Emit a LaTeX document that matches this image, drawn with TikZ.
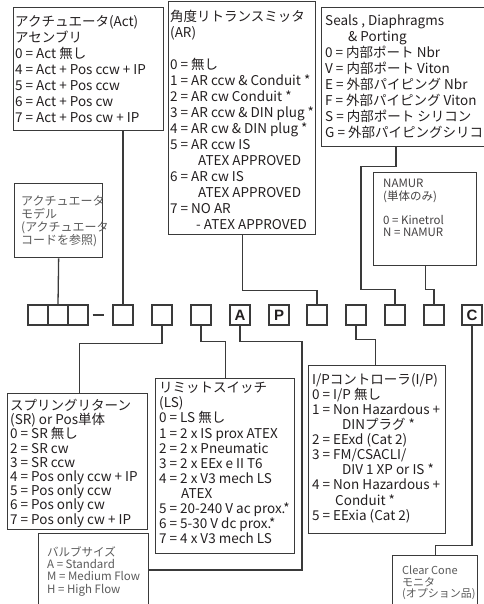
\documentclass[tikz,border=0pt]{standalone}
\usepackage{fontspec}
\setmainfont{Noto Sans CJK JP}
\newfontfamily\codefont{Liberation Sans}
\usepackage{tikz}
\usetikzlibrary{positioning,calc}
\definecolor{ocline}{HTML}{3A3A3A}
\definecolor{octxt}{HTML}{231F20}
\definecolor{ocgray}{HTML}{5A5A5A}
\tikzset{
  ocframe/.style={draw=ocline, line width=1.3pt, anchor=north west, inner sep=0pt},
  ocbig/.style={anchor=north west, align=left, inner sep=0pt, text=octxt,
    font=\fontsize{13.5}{16}\selectfont},
  oclow/.style={ocbig, font=\fontsize{13.5}{15.1}\selectfont},
  ocsr/.style={ocbig, font=\fontsize{13.5}{14.2}\selectfont},
  ocnote/.style={anchor=north west, align=left, inner sep=0pt, text=ocgray,
    font=\fontsize{11.5}{12.4}\selectfont},
  occell/.style={draw=ocline, line width=1.3pt, minimum size=20pt, inner sep=0pt,
    text=octxt, font=\codefont\bfseries\fontsize{15}{15}\selectfont},
  oclink/.style={draw=ocline, line width=1.3pt}
}

\begin{document}
\begin{tikzpicture}[x=1pt,y=-1pt]
\useasboundingbox (0,0) rectangle (483,604);

\node[ocframe, minimum width=150, minimum height=123] (act) at (13,7) {};
\node[ocbig] (acttext) at (15,15) {アクチュエータ(Act)\\アセンブリ\\0 = Act 無し\\4 = Act + Pos ccw + IP\\5 = Act + Pos ccw\\6 = Act + Pos cw\\7 = Act + Pos cw + IP};

\node[ocframe, minimum width=147, minimum height=233] (ar) at (168,1) {};
\node[ocbig] (artext) at (170,10) {角度リトランスミッタ\\(AR)\\[16pt]0 = 無し\\1 = AR ccw \& Conduit *\\2 = AR cw Conduit *\\3 = AR ccw \& DIN plug *\\4 = AR cw \& DIN plug *\\5 = AR ccw IS\\\hspace*{28pt}ATEX APPROVED\\6 = AR cw IS\\\hspace*{28pt}ATEX APPROVED\\7 = NO AR\\\hspace*{26pt}- ATEX APPROVED};

\node[ocframe, minimum width=200, minimum height=139] (seals) at (321,7) {};
\node[ocbig] (sealstext) at (325,15) {Seals , Diaphragms\\\hspace*{23pt}\& Porting\\0 = 内部ポート Nbr\\V = 内部ポート Viton\\E = 外部パイピング Nbr\\F = 外部パイピング Viton\\S = 内部ポート シリコン\\G = 外部パイピングシリコン};

\node[ocframe, minimum width=103, minimum height=93] (namur) at (373,172) {};
\node[ocnote, text=octxt!85] (namurtext) at (383,179) {NAMUR\\(単体のみ)\\[12pt]0 = Kinetrol\\N = NAMUR};

\node[ocframe, minimum width=88, minimum height=74] (model) at (14,183) {};
\node[ocnote, font=\fontsize{12}{13}\selectfont] (modeltext) at (21,196) {アクチュエータ\\モデル\\(アクチュエータ\\コードを参照)};

\node[occell] (t1) at (38,315) {};
\node[occell] (t2) at (58,315) {};
\node[occell] (t3) at (78,315) {};
\node[occell] (b2) at (123,315) {};
\node[occell] (b3) at (162,315) {};
\node[occell] (b4) at (201,315) {};
\node[occell] (pA) at (240,315) {A};
\node[occell] (pP) at (279,315) {P};
\node[occell] (b7) at (317,315) {};
\node[occell] (b8) at (356,315) {};
\node[occell] (b9) at (395,315) {};
\node[occell] (b10) at (434,315) {};
\node[occell] (pC) at (472,315) {C};
\draw[oclink] ([xshift=4pt]t3.east) -- ([xshift=-8pt]b2.west);

\node[ocframe, minimum width=140, minimum height=136] (sr) at (7,393) {};
\node[ocsr] (srtext) at (10,399) {スプリングリターン\\(SR) or Pos単体\\0 = SR 無し\\2 = SR cw\\3 = SR ccw\\4 = Pos only ccw + IP\\5 = Pos only ccw\\6 = Pos only cw\\7 = Pos only cw + IP};

\node[ocframe, minimum width=139, minimum height=175] (ls) at (155,378) {};
\node[oclow] (lstext) at (159,382) {リミットスイッチ\\(LS)\\0 = LS 無し\\1 = 2 x IS prox ATEX\\2 = 2 x Pneumatic\\3 = 2 x EEx e II T6\\4 = 2 x V3 mech LS\\\hspace*{22pt}ATEX\\5 = 20-240 V ac prox.*\\6 = 5-30 V dc prox.*\\7 = 4 x V3 mech LS};

\node[ocframe, minimum width=137, minimum height=168] (ip) at (308,365) {};
\node[oclow] (iptext) at (312,373) {I/Pコントローラ(I/P)\\0 = I/P 無し\\1 = Non Hazardous +\\\hspace*{30pt}DINプラグ *\\2 = EExd (Cat 2)\\3 = FM/CSACLI/\\\hspace*{30pt}DIV 1 XP or IS *\\4 = Non Hazardous +\\\hspace*{23pt}Conduit *\\5 = EExia (Cat 2)};

\node[ocframe, minimum width=110, minimum height=90] (valve) at (38,533) {};
\node[ocnote] (valvetext) at (47,546) {バルブサイズ\\A = Standard\\M = Medium Flow\\H = High Flow};

\node[ocframe, minimum width=85, minimum height=70] (cc) at (392,555) {};
\node[ocnote, font=\fontsize{11}{11.5}\selectfont] (cctext) at (402,566) {Clear Cone\\モニタ\\(オプション品)};

\coordinate (vj) at (302,570);

\draw[oclink] (model.south) -- (t2.north);
\draw[oclink] (act.south -| b2.north) -- (b2.north);
\draw[oclink] (ar.south) -- ++(0,55) -| (b7.north);
\draw[oclink] ([xshift=75pt]seals.south west) -- ++(0,19) -| ++(-35,123) -| (b9.north);
\draw[oclink] (namur.south) -- ++(0,23) -| (b10.north);
\draw[oclink] (b3.south) -- ++(0,18) -| ([xshift=2pt]sr.north);
\draw[oclink] (b4.south) -- ++(0,16) -| (ls.north);
\draw[oclink] (pA.south) -- ++(0,16) -| (vj) -- (vj -| valve.east);
\draw[oclink] (b8.south) -- ++(0,14) -| ([xshift=-2pt]ip.north);
\draw[oclink] (pC.south) -- ++(0,220) -| (cc.north);
\end{tikzpicture}
\end{document}
